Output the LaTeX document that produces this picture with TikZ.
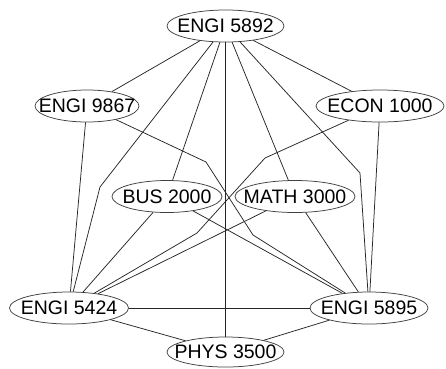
\documentclass[tikz,border=0pt]{standalone}
\usepackage{fontspec}
\setmainfont{Liberation Sans}
\usepackage{tikz}
\usetikzlibrary{shapes.geometric}
\newcommand{\crs}[1]{\makebox[0pt]{#1}}
\tikzset{
  course/.style={ellipse, draw=black!75, line width=0.75pt, inner sep=0pt,
                 minimum height=32pt, minimum width=#1,
                 font=\fontsize{19.5}{19.5}\selectfont},
  course/.default=118pt,
  prereq/.style={draw=black!85, line width=0.75pt},
}
\begin{document}
\begin{tikzpicture}[x=1pt, y=-1pt]
\useasboundingbox (0,0) rectangle (446,368);
\node[course=117pt] (e5892) at (225.5,26) {\crs{ENGI 5892}};
\node[course=104pt] (e9867) at (87,106) {\crs{ENGI 9867}};
\node[course=128pt] (c1000) at (380,106) {\crs{ECON 1000}};
\node[course=110pt] (b2000) at (167,196.5) {\crs{BUS 2000}};
\node[course=120pt] (m3000) at (295,196.5) {\crs{MATH 3000}};
\node[course=119pt] (e5424) at (69,308) {\crs{ENGI 5424}};
\node[course=118pt] (e5895) at (369,308) {\crs{ENGI 5895}};
\node[course=117pt, minimum height=30pt] (p3500) at (225.5,352) {\crs{PHYS 3500}};
% edges out of the top course
\draw[prereq] (e5892) -- (e9867);
\draw[prereq] (e5892) -- (c1000);
\draw[prereq] (e5892) -- (b2000);
\draw[prereq] (e5892) -- (m3000);
\draw[prereq] (e5892) -- (p3500);
\draw[prereq] (e5892) -- (100,187) -- (e5424);
\draw[prereq] (e5892) -- (360,173) -- (e5895);
% routed through the gap between the middle pair
\draw[prereq] (e9867) -- (206,162) -- (253,235) -- (e5895);
\draw[prereq] (c1000) -- (265,158) -- (197,233) -- (e5424);
\draw[prereq] (e9867) -- (e5424);
\draw[prereq] (c1000) -- (e5895);
\draw[prereq] (b2000) -- (e5424);
\draw[prereq] (b2000) -- (e5895);
\draw[prereq] (m3000) -- (e5424);
\draw[prereq] (m3000) -- (e5895);
% bottom row
\draw[prereq] (e5424) -- (e5895);
\draw[prereq] (e5424) -- (p3500);
\draw[prereq] (e5895) -- (p3500);
\end{tikzpicture}
\end{document}
